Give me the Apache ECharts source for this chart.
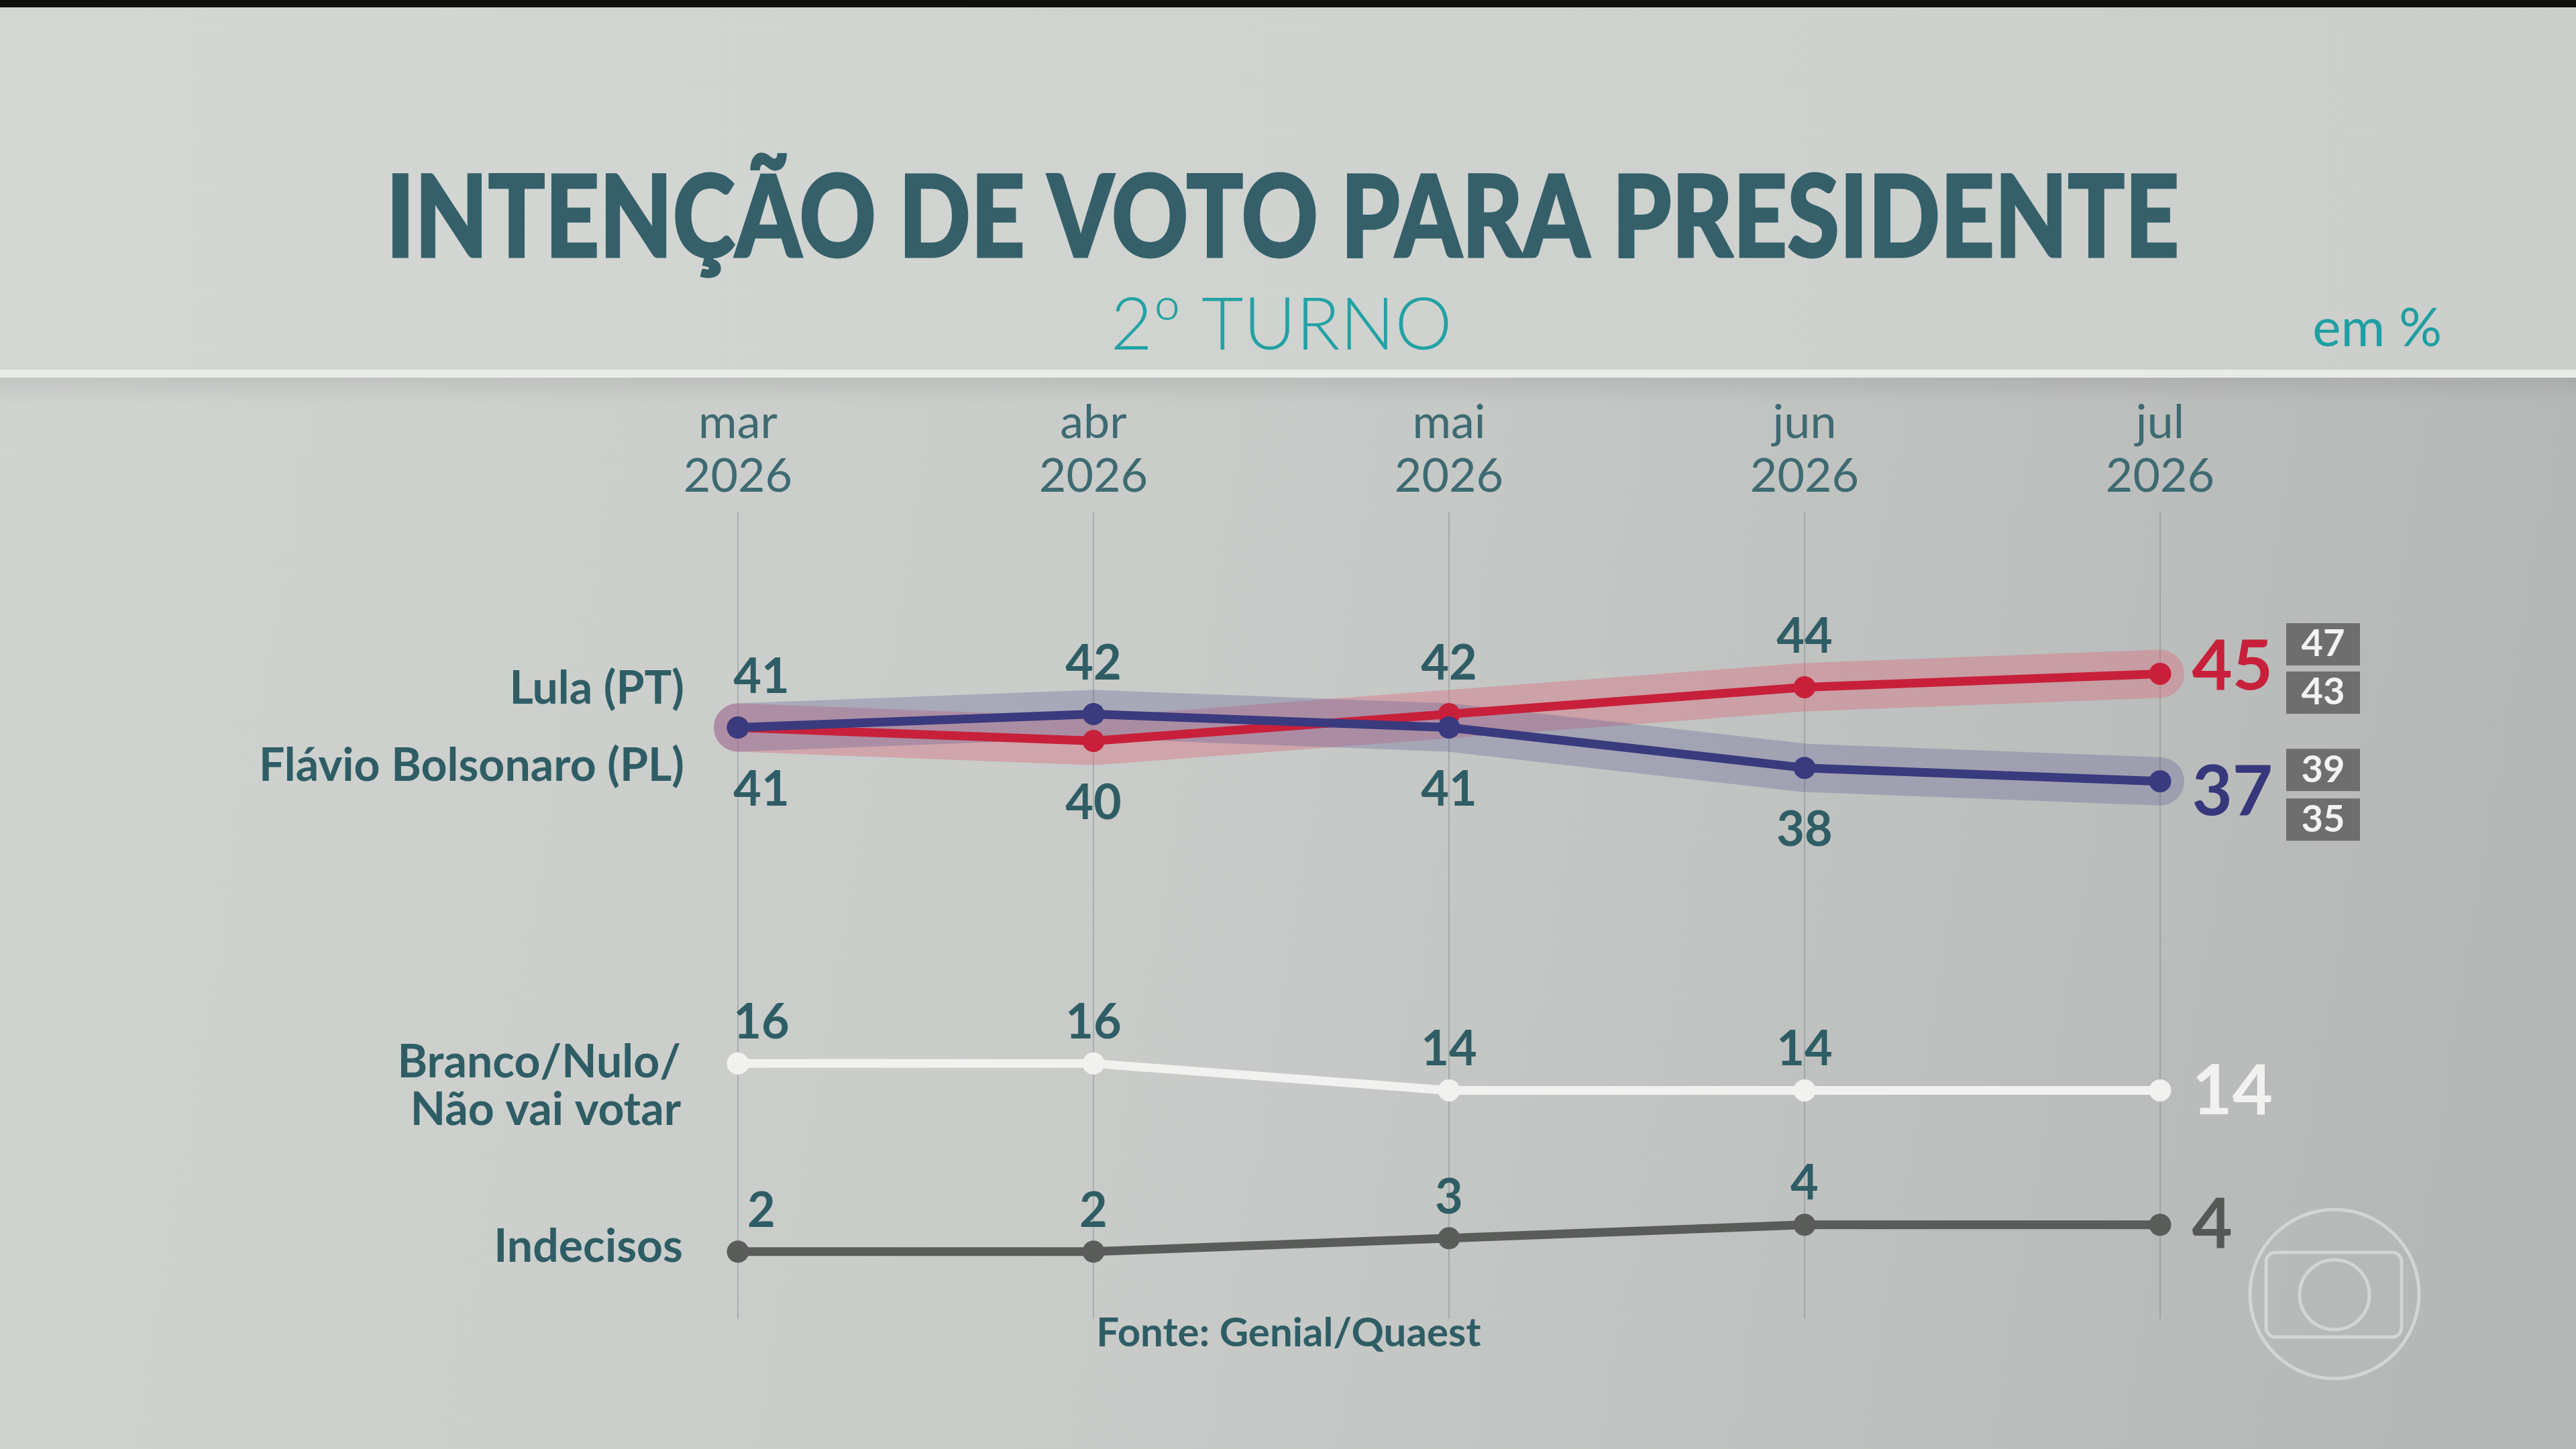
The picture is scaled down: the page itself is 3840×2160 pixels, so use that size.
<!DOCTYPE html>
<html>
<head>
<meta charset="utf-8">
<title>Intenção de voto para presidente</title>
<script src="https://cdn.jsdelivr.net/npm/echarts@6/dist/echarts.min.js"></script>
<style>
  html, body { margin: 0; padding: 0; }
  #chart { width: 3840px; height: 2160px; }
</style>
</head>
<body>
<div id="chart"></div>
<script>
var meses = ['mar\n2026', 'abr\n2026', 'mai\n2026', 'jun\n2026', 'jul\n2026'];
var lula = [41, 40, 42, 44, 45];
var flavio = [41, 42, 41, 38, 37];
var branco = [16, 16, 14, 14, 14];
var indecisos = [2, 2, 3, 4, 4];
var lulaMargem = [47, 43];
var flavioMargem = [39, 35];
var nomes = ['Lula (PT)', 'Flávio Bolsonaro (PL)', 'Branco/Nulo/\nNão vai votar', 'Indecisos'];

// lado do rótulo em cada mês (o último vai sempre à direita)
var ladoLula = ['top', 'bottom', 'top', 'top'];
var ladoFlavio = ['bottom', 'top', 'bottom', 'bottom'];
var ladoOutros = ['top', 'top', 'top', 'top'];

var corTexto = '#2f5d65';
var fonte = 'Lato, "Noto Sans", sans-serif';

function pontos(valores, lados, dTop, dBottom, corFim, dyFim) {
  return valores.map(function (v, i) {
    if (i === valores.length - 1) {
      return {
        value: v,
        label: { position: 'right', distance: 31, fontSize: 104, color: corFim, offset: [0, dyFim] }
      };
    }
    return {
      value: v,
      label: {
        position: lados[i],
        distance: lados[i] === 'top' ? dTop : dBottom,
        offset: [i === 0 ? 35 : 0, 0]
      }
    };
  });
}

function halo(valores, cor) {
  return {
    type: 'line', data: valores, symbol: 'none', silent: true, z: 1,
    lineStyle: { width: 72, color: cor, cap: 'round', join: 'round' }
  };
}

function linha(nome, dados, cor, z) {
  return {
    name: nome, type: 'line', data: dados, z: z,
    symbol: 'circle', symbolSize: 33,
    lineStyle: { width: 13, color: cor },
    itemStyle: { color: cor },
    label: { show: true, fontFamily: fonte, fontWeight: 'bold', fontSize: 72, color: corTexto }
  };
}

function caixas(valores, serie, dys) {
  return {
    symbol: 'rect', symbolSize: [110, 63], silent: true,
    itemStyle: { color: '#6d6e6d' },
    label: {
      show: true, position: 'inside', formatter: '{c}',
      fontFamily: fonte, fontWeight: 'bold', fontSize: 56, color: '#f3f3f3'
    },
    data: valores.map(function (v, i) {
      return { coord: [meses[4], serie[4]], value: v, symbolOffset: [243, dys[i]] };
    })
  };
}

var chart = echarts.init(document.getElementById('chart'));

var sLula = linha(nomes[0], pontos(lula, ladoLula, 22, 41, '#c8203a', -10), '#c8203a', 4);
sLula.markPoint = caixas(lulaMargem, lula, [-44, 28]);
var sFlavio = linha(nomes[1], pontos(flavio, ladoFlavio, 22, 41, '#37377b', 17), '#3a3a7e', 5);
sFlavio.markPoint = caixas(flavioMargem, flavio, [-17, 57]);
var sBranco = linha(nomes[2], pontos(branco, ladoOutros, 8, 8, '#f1f2f0', 2), '#f1f2f0', 3);
var sIndecisos = linha(nomes[3], pontos(indecisos, ladoOutros, 8, 8, '#565856', 1), '#5a5c5a', 3);

var option = {
  animation: false,
  grid: { left: 1100, right: 620, top: 764, bottom: 194 },
  xAxis: {
    type: 'category', data: meses, position: 'top', boundaryGap: false,
    axisLine: { show: false }, axisTick: { show: false },
    axisLabel: { fontFamily: fonte, fontSize: 70, lineHeight: 80, color: '#3e6a72', margin: 14 },
    splitLine: { show: true, lineStyle: { color: 'rgba(110,116,114,0.35)', width: 2 } }
  },
  yAxis: { type: 'value', min: -3, max: 57, show: false },
  graphic: [
    {
      type: 'rect', z: -10, silent: true, shape: { x: 0, y: 0, width: 3840, height: 2160 },
      style: {
        fill: new echarts.graphic.LinearGradient(0, 0, 1, 0.3, [
          { offset: 0, color: '#d0d3d0' },
          { offset: 0.5, color: '#c8cbc8' },
          { offset: 1, color: '#b5b8b6' }
        ])
      }
    },
    {
      type: 'rect', z: -9, silent: true, shape: { x: 0, y: 11, width: 3840, height: 541 },
      style: {
        fill: new echarts.graphic.LinearGradient(0, 0, 1, 0, [
          { offset: 0, color: '#d4d7d4' },
          { offset: 1, color: '#cbcecb' }
        ])
      }
    },
    {
      type: 'rect', z: -8, silent: true, shape: { x: 0, y: 562, width: 3840, height: 40 },
      style: {
        fill: new echarts.graphic.LinearGradient(0, 0, 0, 1, [
          { offset: 0, color: 'rgba(0,0,0,0.07)' },
          { offset: 1, color: 'rgba(0,0,0,0)' }
        ])
      }
    },
    { type: 'rect', z: -7, silent: true, shape: { x: 0, y: 551, width: 3840, height: 12 }, style: { fill: '#e9ebe9' } },
    { type: 'rect', z: -7, silent: true, shape: { x: 0, y: 0, width: 3840, height: 11 }, style: { fill: '#0e0f0d' } },
    {
      type: 'text', x: 1912, y: 328, scaleX: 0.83,
      style: { text: 'INTENÇÃO DE VOTO PARA PRESIDENTE', fontFamily: fonte, fontWeight: 900, fontSize: 170, fill: '#35606a', align: 'center', verticalAlign: 'middle', stroke: '#35606a', lineWidth: 3 }
    },
    {
      type: 'text', x: 1910, y: 486,
      style: { text: '2º TURNO', fontFamily: fonte, fontWeight: 300, fontSize: 108, fill: '#22a2a4', align: 'center', verticalAlign: 'middle' }
    },
    {
      type: 'text', x: 3640, y: 490,
      style: { text: 'em %', fontFamily: fonte, fontWeight: 400, fontSize: 80, fill: '#1f9fa1', align: 'right', verticalAlign: 'middle' }
    },
    { type: 'text', x: 1020, y: 1027, style: { text: nomes[0], fontFamily: fonte, fontWeight: 'bold', fontSize: 68, fill: corTexto, align: 'right', verticalAlign: 'middle' } },
    { type: 'text', x: 1020, y: 1142, style: { text: nomes[1], fontFamily: fonte, fontWeight: 'bold', fontSize: 68, fill: corTexto, align: 'right', verticalAlign: 'middle' } },
    { type: 'text', x: 1015, y: 1620, style: { text: nomes[2], fontFamily: fonte, fontWeight: 'bold', fontSize: 68, lineHeight: 71, fill: corTexto, align: 'right', verticalAlign: 'middle' } },
    { type: 'text', x: 1018, y: 1859, style: { text: nomes[3], fontFamily: fonte, fontWeight: 'bold', fontSize: 68, fill: corTexto, align: 'right', verticalAlign: 'middle' } },
    { type: 'text', x: 1921, y: 1988, style: { text: 'Fonte: Genial/Quaest', fontFamily: fonte, fontWeight: 'bold', fontSize: 60, fill: corTexto, align: 'center', verticalAlign: 'middle' } },
    // marca d'água da emissora
    { type: 'circle', silent: true, shape: { cx: 3480, cy: 1929, r: 126 }, style: { fill: 'none', stroke: '#d2d5d3', lineWidth: 5 } },
    { type: 'rect', silent: true, shape: { x: 3378, y: 1867, width: 202, height: 126, r: 14 }, style: { fill: 'none', stroke: '#d2d5d3', lineWidth: 5 } },
    { type: 'circle', silent: true, shape: { cx: 3480, cy: 1930, r: 52 }, style: { fill: 'none', stroke: '#d2d5d3', lineWidth: 5 } }
  ],
  series: [
    halo(lula, 'rgba(216,110,128,0.42)'),
    halo(flavio, 'rgba(90,90,150,0.3)'),
    sBranco,
    sIndecisos,
    sLula,
    sFlavio
  ]
};

chart.setOption(option);
</script>
</body>
</html>
